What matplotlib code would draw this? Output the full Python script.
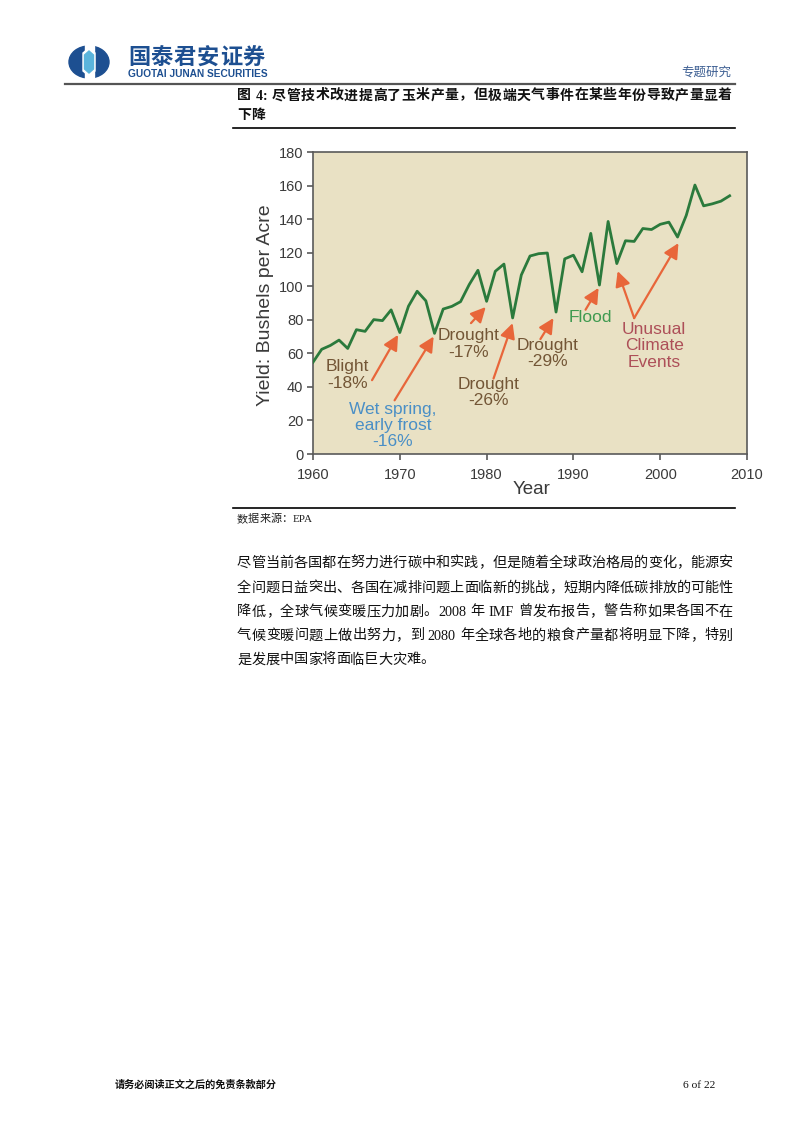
import re

import matplotlib
matplotlib.use("Agg")
import matplotlib.pyplot as plt
from matplotlib.lines import Line2D
from matplotlib.patches import Ellipse, Polygon, Rectangle

# --- data -----------------------------------------------------------------
years = list(range(1960, 2009))
yields = [54.7, 62.4, 64.7, 67.9, 62.9, 74.1, 73.1, 80.1, 79.5, 85.9,
          72.4, 88.1, 97.0, 91.3, 71.9, 86.4, 88.0, 90.8, 101.0, 109.5,
          91.0, 108.9, 113.2, 81.1, 106.7, 118.0, 119.4, 119.8, 84.6, 116.3,
          118.5, 108.6, 131.5, 100.7, 138.6, 113.5, 127.1, 126.7, 134.4, 133.8,
          136.9, 138.2, 129.3, 142.2, 160.3, 147.9, 149.1, 150.7, 153.9]
y_ticks = [0, 20, 40, 60, 80, 100, 120, 140, 160, 180]
x_ticks = [1960, 1970, 1980, 1990, 2000, 2010]

event_labels = ["Blight\n-18%", "Wet spring,\nearly frost\n-16%", "Drought\n-17%",
                "Drought\n-26%", "Drought\n-29%", "Flood",
                "Unusual\nClimate\nEvents"]
event_kind = ["brown", "blue", "brown", "brown", "brown", "green", "red"]

title = "图 4: 尽管技术改进提高了玉米产量，但极端天气事件在某些年份导致产量显着"
title2 = "下降"
source = "数据来源：EPA"
para = [
    "尽管当前各国都在努力进行碳中和实践，但是随着全球政治格局的变化，能源安",
    "全问题日益突出、各国在减排问题上面临新的挑战，短期内降低碳排放的可能性",
    "降低，全球气候变暖压力加剧。2008 年 IMF 曾发布报告，警告称如果各国不在",
    "气候变暖问题上做出努力，到 2080 年全球各地的粮食产量都将明显下降，特别",
    "是发展中国家将面临巨大灾难。",
]
footer = "请务必阅读正文之后的免责条款部分"
page_no = "6 of 22"

# --- layout helpers ---------------------------------------------------------
W, H = 802, 1133
CJK = ["Liberation Serif", "Noto Sans CJK SC", "DejaVu Sans"]
SANS_CJK = ["Noto Sans CJK SC", "DejaVu Sans"]


def fx(x):
    return x / W


def fy(y):
    return 1 - y / H


fig = plt.figure(figsize=(W / 100, H / 100), dpi=100)
fig.set_facecolor("white")


def hline(x0, x1, y, lw=1.0, color="black"):
    fig.add_artist(Line2D([fx(x0), fx(x1)], [fy(y), fy(y)], lw=lw,
                          color=color, transform=fig.transFigure))


def justify(text, x0, x1, y, size, last=False, **kw):
    """Place a line of mixed CJK/Latin text stretched between x0 and x1."""
    tokens = re.findall(r"[A-Za-z0-9.]+| |.", text)
    renderer = fig.canvas.get_renderer()
    widths = []
    arts = []
    for tok in tokens:
        if tok == " ":
            widths.append(size * 0.35)
            arts.append(None)
            continue
        t = fig.text(0, 0, tok, fontsize=size, family=CJK, va="center", **kw)
        widths.append(t.get_window_extent(renderer).width)
        arts.append(t)
    gap = 0 if last else (x1 - x0 - sum(widths)) / max(len(tokens) - 1, 1)
    x = x0
    for t, w in zip(arts, widths):
        if t is not None:
            t.set_position((fx(x), fy(y)))
        x += w + gap


# --- header -------------------------------------------------------------------
logo = fig.add_axes([fx(68), fy(79), fx(42), 34 / H])
logo.set_xlim(0, 42)
logo.set_ylim(0, 34)
logo.axis("off")
logo.add_patch(Ellipse((21, 17), 40, 32, color="#1d4f91"))
logo.add_patch(Rectangle((16.5, 0), 9, 34, color="white"))
logo.add_patch(Polygon([(21, 31), (27, 26), (27, 8), (21, 3), (15, 8), (15, 26)],
                       closed=True, color="white"))
logo.add_patch(Polygon([(21, 28), (25.5, 24), (25.5, 10), (21, 6), (16.5, 10),
                        (16.5, 24)], closed=True, color="#5ab4dc"))

for i, ch in enumerate("国泰君安证券"):
    fig.text(fx(139 + i * 23), fy(58), ch, fontsize=16, family=SANS_CJK,
             weight="bold", color="#1d4f91", ha="center", va="center")
fig.text(fx(128), fy(74), "GUOTAI JUNAN SECURITIES", fontsize=7.3,
         family="Liberation Sans", weight="bold", color="#1d4f91", va="center")
fig.text(fx(731), fy(72), "专题研究", fontsize=9, family=SANS_CJK,
         color="#3d5f93", ha="right", va="center")
hline(65, 735, 84, lw=1.6, color="#555555")

# --- figure title ---------------------------------------------------------------
justify(title, 237, 732, 96, 10, weight="bold", color="#111111")
justify(title2, 237, 732, 116, 10, last=True, weight="bold", color="#111111")
hline(233, 735, 128, lw=1.2)

# --- chart ------------------------------------------------------------------------
colors = {"brown": "#735636", "blue": "#4a8fc6", "green": "#3f9a50",
          "red": "#ad4f58"}
arrow_c = "#e8663a"
text_c = "#3a3a3a"

ax = fig.add_axes([fx(313), fy(454), 434 / W, 302 / H])
ax.set_facecolor("#e9e1c4")
ax.plot(years, yields, color="#2b7a3c", lw=2.0, zorder=3)
ax.set_xlim(1960, 2010)
ax.set_ylim(0, 180)
ax.set_xticks(x_ticks)
ax.set_yticks(y_ticks)
for s in ax.spines.values():
    s.set_color("#5a5a5a")
    s.set_linewidth(1.2)
ax.tick_params(axis="both", direction="out", length=4, width=1.2,
               color="#5a5a5a", labelcolor=text_c, labelsize=10.5)
ax.tick_params(axis="x", pad=6)
ax.tick_params(axis="y", pad=3)
for lab in ax.get_xticklabels() + ax.get_yticklabels():
    lab.set_family("Liberation Sans")

fig.text(fx(265), fy(305), "Yield: Bushels per Acre", rotation=90,
         fontsize=14, family="Liberation Sans", color=text_c,
         ha="center", va="center")
fig.text(fx(532), fy(489), "Year", fontsize=13.5, family="Liberation Sans",
         color=text_c, ha="center", va="center")

# label anchor points (data coords) and arrows (tail -> head)
label_pos = [(1964.0, 47), (1969.2, 17), (1977.9, 65.5), (1980.2, 36.5),
             (1987.0, 60), (1991.9, 81.5), (1999.3, 64.5)]
arrows = [((1966.8, 44), (1969.8, 71)),
          ((1969.4, 32), (1973.9, 70)),
          ((1978.2, 78), (1979.9, 87.6)),
          ((1980.8, 45), (1983.0, 78)),
          ((1986.2, 68.5), (1987.7, 81)),
          ((1991.4, 86), (1992.9, 99)),
          ((1997.0, 81), (1995.1, 109)),
          ((1997.0, 81), (2002.1, 125.7))]

for lab, kind, (lx, ly) in zip(event_labels, event_kind, label_pos):
    ax.text(lx, ly, lab, fontsize=12.5, family="Liberation Sans",
            color=colors[kind], ha="center", va="center", linespacing=1.12,
            zorder=4)
for tail, head in arrows:
    ax.annotate("", xy=head, xytext=tail,
                arrowprops=dict(arrowstyle="-|>,head_length=0.6,head_width=0.3",
                                color=arrow_c, lw=1.6, mutation_scale=15,
                                shrinkA=0, shrinkB=0), zorder=4)

hline(233, 735, 508, lw=1.2)

# --- source + paragraph ---------------------------------------------------------
justify(source, 237, 320, 519, 8, last=True, color="#222222")
line_y = [563, 588, 612, 636, 660]
for i, (txt, y) in enumerate(zip(para, line_y)):
    justify(txt, 237, 733, y, 10.2, last=(i == len(para) - 1), color="#111111")

# --- footer ---------------------------------------------------------------------
fig.text(fx(115), fy(1085), footer, fontsize=7.3, family=SANS_CJK,
         weight="bold", color="#111111", va="center")
fig.text(fx(683), fy(1085), page_no, fontsize=8.2, family="Liberation Serif",
         color="#111111", va="center")

fig.savefig("out.png", dpi=100)
